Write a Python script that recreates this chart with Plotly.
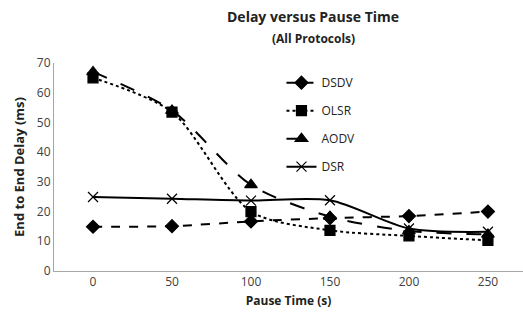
import plotly.graph_objects as go

pause_time = [0, 50, 100, 150, 200, 250]
dsdv = [14.9, 15.1, 16.7, 17.8, 18.5, 20.0]
olsr = [65.0, 53.5, 20.0, 13.7, 11.8, 10.3]
aodv = [67.0, 54.0, 29.0, 18.3, 13.5, 12.3]
dsr = [24.9, 24.3, 23.7, 23.8, 14.3, 13.2]

series = [
    ("DSDV", dsdv, "dash", "diamond", 10),
    ("OLSR", olsr, "dot", "square", 10),
    ("AODV", aodv, "longdash", "triangle-up", 11),
    ("DSR", dsr, "solid", "x-thin", 10),
]

fig = go.Figure()
for name, vals, dash, sym, sz in series:
    fig.add_trace(go.Scatter(
        x=pause_time, y=vals, name=name, mode="lines+markers",
        legendgroup=name,
        line=dict(color="black", width=2, dash=dash, shape="spline", smoothing=0.8),
        marker=dict(symbol=sym, size=sz, color="black",
                    line=dict(color="black", width=1.2)),
    ))

font = "Open Sans, Liberation Sans, sans-serif"
fig.update_layout(
    width=523, height=320,
    margin=dict(l=54, r=0, t=63, b=49),
    paper_bgcolor="white", plot_bgcolor="white",
    font=dict(family=font, color="#404040", size=12),
    showlegend=True,
    legend=dict(x=0.485, y=0.975, xanchor="left", yanchor="top",
                bgcolor="rgba(0,0,0,0)", tracegroupgap=9,
                font=dict(size=12, color="#222")),
    xaxis=dict(range=[-24.7, 272.2], tickvals=pause_time, ticks="",
               showgrid=False, zeroline=False, showline=True,
               linecolor="#a6a6a6", linewidth=1,
               tickfont=dict(size=12, color="#404040"),
               title=dict(text="<b>Pause Time (s)</b>", font=dict(size=12, color="#222"), standoff=7)),
    yaxis=dict(range=[0, 70], dtick=10, ticks="", showgrid=False, zeroline=False,
               showline=True, linecolor="#a6a6a6", linewidth=1,
               tickfont=dict(size=12, color="#404040"),
               title=dict(text="<b>End to End Delay (ms)</b>", font=dict(size=13, color="#222"), standoff=9)),
    annotations=[
        dict(text="<b>Delay versus Pause Time</b>", x=313, y=17, xref="paper", yref="paper",
             showarrow=False, font=dict(size=14, color="#222")),
        dict(text="<b>(All Protocols)</b>", x=313, y=38, xref="paper", yref="paper",
             showarrow=False, font=dict(size=12, color="#222")),
    ],
)
# convert title annotation positions from pixels to paper coords
pw, ph = 523 - 54, 320 - 63 - 49
for a in fig.layout.annotations:
    px, py = a.x, a.y
    a.x = (px - 54) / pw
    a.y = (320 - 49 - py) / ph
    a.xanchor = "center"
    a.yanchor = "middle"

fig.write_html("out.html")
